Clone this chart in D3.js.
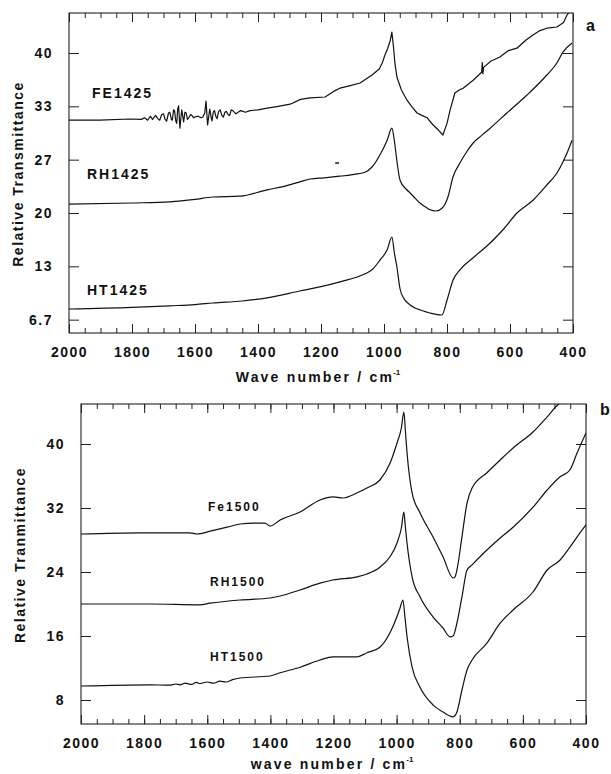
<!DOCTYPE html>
<html>
<head>
<meta charset="utf-8">
<script src="https://cdn.jsdelivr.net/npm/d3@7.9.0/dist/d3.min.js"></script>
<style>
  html, body { margin: 0; padding: 0; background: #fff; }
  svg { display: block; font-family: "Liberation Sans", Arial, Helvetica, sans-serif; }
  .tick text { font-size: 14px; font-weight: bold; letter-spacing: 1.5px; fill: #111; }
  .tick line { stroke: #222; stroke-width: 1; }
</style>
</head>
<body>
<svg id="chart" width="611" height="774"></svg>
<script>
// ---- x ticks (shared) ----
const xMajor = [2000, 1800, 1600, 1400, 1200, 1000, 800, 600, 400];
const xMinor = d3.range(2000, 399, -50);

// ---- panel a ticks ----
const aTickValues = [6.667, 13.333, 20, 26.667, 33.333, 40];
const aTickLabels = ['6.7', '13', '20', '27', '33', '40'];

// ---- panel b ticks ----
const bTickValues = [8, 16, 24, 32, 40];
const bTickLabels = ['8', '16', '24', '32', '40'];

// ---- panel a series ----
const fe1425Wave = [2000, 1902, 1806, 1770, 1760, 1750, 1742, 1735, 1725, 1718, 1712, 1706, 1700, 1695, 1690, 1684, 1680, 1675, 1672, 1668, 1665, 1661, 1658, 1655, 1652, 1648, 1645, 1642, 1638, 1636, 1632, 1628, 1624, 1620, 1614, 1610, 1604, 1600, 1590, 1580, 1575, 1569, 1565, 1560, 1556, 1553, 1549, 1546, 1542, 1538, 1534, 1530, 1525, 1520, 1515, 1510, 1505, 1500, 1495, 1490, 1485, 1480, 1470, 1455, 1440, 1425, 1400, 1371, 1340, 1298, 1265, 1235, 1187, 1160, 1140, 1110, 1076, 1038, 1015, 1005, 997, 988, 980, 975, 970, 965, 959, 945, 927, 910, 895, 880, 863, 844, 828, 813, 800, 790, 775, 760, 749, 717, 690, 688, 686, 684, 660, 632, 605, 578, 550, 527, 505, 483, 451, 430, 419, 410];
const fe1425T = [31.6, 31.6, 31.75, 31.7, 31.9, 31.6, 32.1, 31.7, 32.2, 31.8, 31.6, 32.3, 32.4, 31.7, 31.5, 32.5, 32.6, 31.7, 31.6, 32.9, 32.8, 31.5, 31.2, 33.0, 33.4, 30.6, 31.8, 32.9, 31.9, 31.4, 32.6, 32.5, 31.7, 31.9, 32.3, 32.2, 31.9, 32.0, 32.1, 31.9, 32.0, 32.5, 34.0, 31.0, 32.2, 33.0, 32.0, 31.5, 32.6, 32.8, 32.1, 31.8, 32.7, 32.9, 32.2, 32.0, 32.6, 32.7, 32.3, 32.2, 32.9, 32.8, 32.4, 32.8, 32.6, 32.8, 32.9, 33.1, 33.3, 33.6, 34.2, 34.4, 34.5, 35.2, 35.6, 35.9, 36.25, 37.25, 38.0, 38.8, 39.75, 40.6, 41.6, 42.6, 40.8, 38.6, 37.0, 35.4, 34.1, 33.2, 32.5, 32.2, 31.9, 31.0, 30.4, 29.75, 31.2, 32.9, 35.0, 35.4, 35.6, 36.6, 37.6, 38.8, 37.4, 38.2, 39.0, 39.5, 40.3, 40.6, 41.6, 42.25, 42.8, 43.1, 43.25, 43.8, 44.75, 45.2];

const rh1425Wave = [2000, 1800, 1679, 1600, 1543, 1457, 1371, 1320, 1267, 1235, 1190, 1140, 1100, 1060, 1038, 1013, 990, 975, 967, 959, 949, 930, 917, 900, 886, 870, 854, 835, 816, 805, 797, 781, 759, 740, 717, 690, 663, 610, 546, 483, 451, 432, 403];
const rh1425T = [21.1, 21.25, 21.4, 21.7, 22.0, 22.1, 22.9, 23.3, 23.9, 24.25, 24.4, 24.6, 24.8, 25.1, 25.75, 27.25, 29.1, 30.6, 29.0, 26.5, 24.1, 23.0, 22.5, 21.8, 21.25, 20.8, 20.4, 20.25, 20.6, 21.2, 22.0, 24.5, 26.25, 27.5, 28.75, 29.7, 30.6, 32.5, 34.75, 37.25, 38.75, 40.1, 41.25];

const ht1425Wave = [2000, 1800, 1679, 1600, 1543, 1450, 1371, 1267, 1200, 1140, 1060, 1038, 1013, 990, 975, 967, 959, 949, 935, 917, 900, 886, 854, 816, 800, 781, 759, 717, 663, 620, 578, 527, 483, 451, 419, 403];
const ht1425T = [8.0, 8.2, 8.4, 8.55, 8.75, 9.0, 9.4, 10.25, 10.8, 11.4, 12.4, 12.9, 14.1, 15.4, 17.0, 15.0, 13.25, 10.5, 9.2, 8.5, 8.1, 7.9, 7.5, 7.25, 9.1, 11.6, 12.9, 14.4, 16.25, 18.0, 20.0, 21.6, 23.5, 25.0, 27.5, 29.1];

// stray dash near RH1425
const dashWave = [1155, 1143];
const dashT = [26.25, 26.25];

// ---- panel b series ----
const fe1500Wave = [2000, 1813, 1655, 1632, 1591, 1537, 1496, 1450, 1417, 1401, 1369, 1306, 1243, 1202, 1170, 1125, 1094, 1053, 1021, 999, 985, 977, 972, 967, 951, 926, 885, 853, 821, 815, 809, 793, 777, 761, 714, 672, 631, 568, 523, 489, 476];
const fe1500T = [28.75, 28.9, 28.9, 28.75, 29.1, 29.6, 30.0, 30.1, 30.1, 29.75, 30.5, 31.5, 33.0, 33.4, 33.25, 33.9, 34.5, 35.5, 37.6, 40.1, 42.0, 44.0, 41.5, 38.9, 33.9, 31.4, 28.4, 25.9, 23.25, 23.4, 24.25, 28.4, 32.6, 34.5, 36.4, 38.0, 39.5, 41.5, 43.4, 44.9, 45.3];

const rh1500Wave = [2000, 1781, 1623, 1591, 1496, 1401, 1369, 1306, 1243, 1202, 1125, 1094, 1053, 1021, 999, 985, 977, 972, 967, 951, 926, 885, 853, 831, 821, 809, 793, 777, 761, 714, 672, 631, 568, 523, 482, 451, 428, 400];
const rh1500T = [20.0, 20.0, 19.9, 20.1, 20.5, 20.75, 21.0, 21.75, 22.6, 23.0, 23.4, 23.75, 24.6, 25.9, 27.6, 29.5, 31.5, 29.5, 27.6, 23.4, 20.9, 18.4, 17.0, 15.9, 16.0, 17.6, 20.9, 24.25, 24.9, 26.75, 28.25, 29.6, 32.1, 34.25, 35.9, 36.75, 38.9, 41.4];

const ht1500Wave = [2000, 1781, 1720, 1700, 1686, 1670, 1650, 1635, 1623, 1600, 1580, 1560, 1540, 1520, 1496, 1401, 1369, 1306, 1243, 1202, 1125, 1094, 1053, 1021, 999, 990, 980, 974, 967, 951, 926, 885, 853, 821, 809, 793, 777, 761, 714, 672, 631, 568, 523, 482, 451, 428, 400];
const ht1500T = [9.75, 9.9, 9.85, 10.0, 9.9, 10.1, 9.95, 10.2, 10.05, 10.25, 10.1, 10.35, 10.25, 10.55, 10.75, 11.0, 11.4, 12.1, 13.0, 13.4, 13.4, 13.9, 14.6, 16.4, 18.4, 19.4, 20.5, 18.5, 15.9, 12.1, 9.6, 7.4, 6.5, 5.9, 6.5, 9.25, 11.75, 13.0, 15.1, 17.6, 19.25, 21.5, 24.25, 25.5, 27.1, 28.4, 29.9];

const zip = (w, t) => w.map((v, i) => ({ w: v, t: t[i] }));

const svg = d3.select('#chart');

function drawPanel(p) {
  const x = d3.scaleLinear().domain([2000, 400]).range([p.left, p.right]);
  const y = d3.scaleLinear().domain([5, 45]).range([p.bottom, p.top]);
  const g = svg.append('g');

  const clipId = 'clip-' + p.id;
  svg.append('clipPath').attr('id', clipId)
    .append('rect')
    .attr('x', p.left).attr('y', p.top)
    .attr('width', p.right - p.left).attr('height', p.bottom - p.top);

  // minor + major ticks, bottom and top, pointing inward
  g.append('g').attr('transform', `translate(0,${p.bottom})`)
    .call(d3.axisBottom(x).tickValues(xMinor).tickSize(-5).tickSizeOuter(0).tickFormat(''))
    .call((s) => s.select('.domain').remove());
  g.append('g').attr('transform', `translate(0,${p.bottom})`)
    .call(d3.axisBottom(x).tickValues(xMajor).tickSize(-9).tickSizeOuter(0).tickPadding(14).tickFormat(d3.format('d')))
    .call((s) => s.select('.domain').remove());
  g.append('g').attr('transform', `translate(0,${p.top})`)
    .call(d3.axisTop(x).tickValues(xMinor).tickSize(-5).tickSizeOuter(0).tickFormat(''))
    .call((s) => s.select('.domain').remove());
  g.append('g').attr('transform', `translate(0,${p.top})`)
    .call(d3.axisTop(x).tickValues(xMajor).tickSize(-9).tickSizeOuter(0).tickFormat(''))
    .call((s) => s.select('.domain').remove());

  g.append('g').attr('transform', `translate(${p.left},0)`)
    .call(d3.axisLeft(y).tickValues(p.yTicks).tickSize(-10).tickSizeOuter(0).tickPadding(16)
      .tickFormat((d, i) => p.yLabels[i]))
    .call((s) => s.select('.domain').remove());
  g.append('g').attr('transform', `translate(${p.right},0)`)
    .call(d3.axisRight(y).tickValues(p.yTicks).tickSize(-10).tickSizeOuter(0).tickFormat(''))
    .call((s) => s.select('.domain').remove());

  // frame
  g.append('rect')
    .attr('x', p.left).attr('y', p.top)
    .attr('width', p.right - p.left).attr('height', p.bottom - p.top)
    .attr('fill', 'none').attr('stroke', '#222').attr('stroke-width', 1.1);

  const smooth = d3.line().curve(d3.curveMonotoneX).x((d) => x(d.w)).y((d) => y(d.t));
  const jagged = d3.line().x((d) => x(d.w)).y((d) => y(d.t));

  g.append('g').attr('clip-path', `url(#${clipId})`)
    .selectAll('path')
    .data(p.series)
    .join('path')
    .attr('d', (s) => (s.jagged ? jagged : smooth)(s.data))
    .attr('fill', 'none')
    .attr('stroke', '#111')
    .attr('stroke-width', (s) => s.width || 1.2)
    .attr('stroke-linejoin', 'round');

  // series labels
  g.selectAll('text.series')
    .data(p.labels)
    .join('text')
    .attr('class', 'series')
    .attr('x', (d) => d.x).attr('y', (d) => d.y)
    .attr('font-size', p.labelSize).attr('font-weight', 'bold')
    .attr('letter-spacing', '2px').attr('fill', '#111')
    .text((d) => d.text);

  // x title with superscript
  const xt = g.append('text')
    .attr('x', p.xTitleX).attr('y', p.xTitleY)
    .attr('text-anchor', 'middle')
    .attr('font-size', 14).attr('font-weight', 'bold')
    .attr('letter-spacing', '2.2px').attr('fill', '#111');
  xt.append('tspan').text(p.xTitle);
  xt.append('tspan').attr('font-size', 8).attr('dx', -1).attr('dy', -7).attr('letter-spacing', '0px').text('-1');

  // y title
  g.append('text')
    .attr('transform', `translate(${p.yTitleX},${p.yTitleY}) rotate(-90)`)
    .attr('text-anchor', 'middle')
    .attr('font-size', 14).attr('font-weight', 'bold')
    .attr('letter-spacing', '1.5px').attr('fill', '#111')
    .text(p.yTitle);

  // panel letter
  g.append('text')
    .attr('x', p.letterX).attr('y', p.letterY)
    .attr('font-size', 16).attr('font-weight', 'bold').attr('fill', '#111')
    .text(p.letter);
}

drawPanel({
  id: 'a', left: 69, right: 573, top: 13, bottom: 333,
  yTicks: aTickValues, yLabels: aTickLabels,
  series: [
    { data: zip(fe1425Wave, fe1425T), jagged: true },
    { data: zip(rh1425Wave, rh1425T) },
    { data: zip(ht1425Wave, ht1425T) },
    { data: zip(dashWave, dashT), width: 1.5 },
  ],
  labels: [
    { text: 'FE1425', x: 92, y: 98 },
    { text: 'RH1425', x: 87, y: 179 },
    { text: 'HT1425', x: 87, y: 295 },
  ],
  labelSize: 14,
  xTitle: 'Wave number / cm', xTitleX: 318, xTitleY: 382,
  yTitle: 'Relative Transmittance', yTitleX: 23, yTitleY: 174,
  letter: 'a', letterX: 586, letterY: 31,
});

drawPanel({
  id: 'b', left: 81, right: 586, top: 404, bottom: 724,
  yTicks: bTickValues, yLabels: bTickLabels,
  series: [
    { data: zip(fe1500Wave, fe1500T) },
    { data: zip(rh1500Wave, rh1500T) },
    { data: zip(ht1500Wave, ht1500T) },
  ],
  labels: [
    { text: 'Fe1500', x: 208, y: 511 },
    { text: 'RH1500', x: 210, y: 586 },
    { text: 'HT1500', x: 210, y: 661 },
  ],
  labelSize: 12,
  xTitle: 'wave number / cm', xTitleX: 332, xTitleY: 769,
  yTitle: 'Relative Tranmittance', yTitleX: 25, yTitleY: 555,
  letter: 'b', letterX: 600, letterY: 415,
});
</script>
</body>
</html>
